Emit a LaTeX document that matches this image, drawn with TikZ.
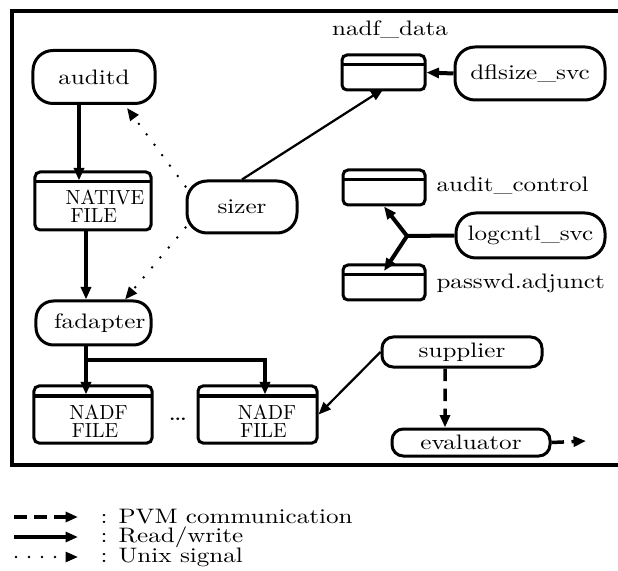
\documentclass[tikz,border=0pt]{standalone}
\usepackage{fontspec}
\setmainfont{lmroman10-regular.otf}[FakeStretch=1.2]
\newfontfamily\filecapsfont{lmroman10-regular.otf}[FakeStretch=0.98]
\usetikzlibrary{arrows.meta}
\begin{document}
\begin{tikzpicture}[x=0.4bp,y=-0.4bp,
  font=\fontsize{8.4}{9}\selectfont,
  proc/.style={draw, line width=1.2bp, rounded corners=8bp, inner sep=0pt},
  smallproc/.style={draw, line width=1.2bp, rounded corners=4.5bp, inner sep=0pt},
  filebox/.style={draw, line width=1.2bp, rounded corners=2bp, inner sep=0pt,
    path picture={\draw[line width=1.2bp]
      ([yshift=-4bp]path picture bounding box.north west) --
      ([yshift=-4bp]path picture bounding box.north east);}},
  filetext/.style={inner sep=0pt, align=left, font=\filecapsfont\fontsize{8.2}{7.2}\selectfont},
  tip/.style={-{Triangle[length=5bp,width=4bp]}},
  rw/.style={tip, line width=1.6bp},
  rwthin/.style={tip, line width=0.9bp},
  pvm/.style={tip, line width=1.4bp, dash pattern=on 5bp off 3bp},
  sig/.style={tip, line width=1.1bp, line cap=round, dash pattern=on 0bp off 5.2bp},
]
\useasboundingbox (0,0) rectangle (618,571);

% enclosing frame (open to the right)
\draw[line width=1.7bp] (640,11) -- (12,11) -- (12,465) -- (640,465);

% processes
\node[proc, minimum width=48.8bp, minimum height=21.2bp] (auditd) at (94,77) {auditd};
\node[proc, minimum width=44bp, minimum height=20.8bp] (sizer) at (242,207) {sizer};
\node[proc, rounded corners=7bp, minimum width=46bp, minimum height=17.6bp] (fadapter) at (93.5,323) {\hspace*{5bp}fadapter};
\node[proc, minimum width=60bp, minimum height=21.2bp] (dflsize) at (530,73.5) {dflsize\_svc};
\node[proc, minimum width=59.6bp, minimum height=18bp] (logcntl) at (530.5,235.5) {logcntl\_svc};
\node[smallproc, minimum width=64bp, minimum height=12bp] (supplier) at (462,352) {supplier};
\node[smallproc, minimum width=63.2bp, minimum height=10.8bp] (evaluator) at (471,442.5) {evaluator};

% files
\node[filebox, minimum width=46.4bp, minimum height=23.2bp] (native) at (93,201) {};
\node[filetext] (nativetxt) at (105,206.5) {NATIVE\\\hspace*{2bp}FILE};
\node[filebox, minimum width=47.2bp, minimum height=22.8bp] (nadfA) at (93,414.5) {};
\node[filetext] (nadfAtxt) at (98.5,421) {NADF\\\hspace*{1bp}FILE};
\node[filebox, minimum width=47.6bp, minimum height=22.8bp] (nadfB) at (257.5,414.5) {};
\node[filetext] (nadfBtxt) at (267,421) {NADF\\\hspace*{1bp}FILE};
\node[inner sep=0pt, font=\fontsize{9.5}{10}\selectfont] (dots) at (178,419) {\ldots};

\node[filebox, minimum width=33.2bp, minimum height=14bp] (nadfdata) at (383.5,72.5) {};
\node[inner sep=0pt] (nadfdatalbl) at (390,30) {nadf\_data};
\node[filebox, minimum width=32.8bp, minimum height=14bp] (auditctl) at (384,187.5) {};
\node[inner sep=0pt, anchor=west] (auditctllbl) at (436,186) {audit\_control};
\node[filebox, minimum width=32.8bp, minimum height=14bp] (passwd) at (384,282.5) {};
\node[inner sep=0pt, anchor=west] (passwdlbl) at (436,283) {passwd.adjunct};

% read/write flows
\draw[rw] ([xshift=-6bp]auditd.south) -- ([xshift=-5.6bp,yshift=-4bp]native.north);
\draw[rw] ([xshift=-2.8bp]native.south) -- ([xshift=-3bp]fadapter.north);
\coordinate (split) at ([xshift=-3bp,yshift=-5.2bp]fadapter.south);
\draw[rw] ([xshift=-3bp]fadapter.south) -- ([xshift=-2.8bp,yshift=-4bp]nadfA.north);
\draw[rw] (split) -| ([xshift=3bp,yshift=-4bp]nadfB.north);
\draw[rw] (dflsize.west) -- (nadfdata.east);
\coordinate (junc) at (407,236);
\draw[line width=1.6bp] (logcntl.west) -- (junc);
\draw[rw] (junc) -- (auditctl.south);
\draw[rw] (junc) -- ([yshift=-3bp]passwd.north);
\draw[rwthin] (sizer.north) -- ([yshift=1bp]nadfdata.south);
\draw[rwthin] (supplier.west) -- (nadfB.east);

% unix signals
\draw[sig] (sizer.160) -- ([xshift=13.2bp,yshift=-1.2bp]auditd.south);
\draw[sig] (sizer.200) -- ([xshift=12.6bp]fadapter.north);

% PVM communication
\draw[pvm] ([xshift=-6.8bp]supplier.south) -- ([xshift=-10.4bp]evaluator.north);
\coordinate (evalout) at (586,441);
\draw[pvm] (evaluator.east) -- (evalout);

% legend
\coordinate (l1a) at (14,517); \coordinate (l1b) at (78,517);
\coordinate (l2a) at (14,537); \coordinate (l2b) at (78,537);
\coordinate (l3a) at (16,557); \coordinate (l3b) at (78,557);
\draw[pvm] (l1a) -- (l1b);
\draw[rw] (l2a) -- (l2b);
\draw[sig] (l3a) -- (l3b);
\node[inner sep=0pt, anchor=west] (t1) at (100,517) {: PVM communication};
\node[inner sep=0pt, anchor=west] (t2) at (100,537) {: Read/write};
\node[inner sep=0pt, anchor=west] (t3) at (100,557) {: Unix signal};
\end{tikzpicture}
\end{document}
